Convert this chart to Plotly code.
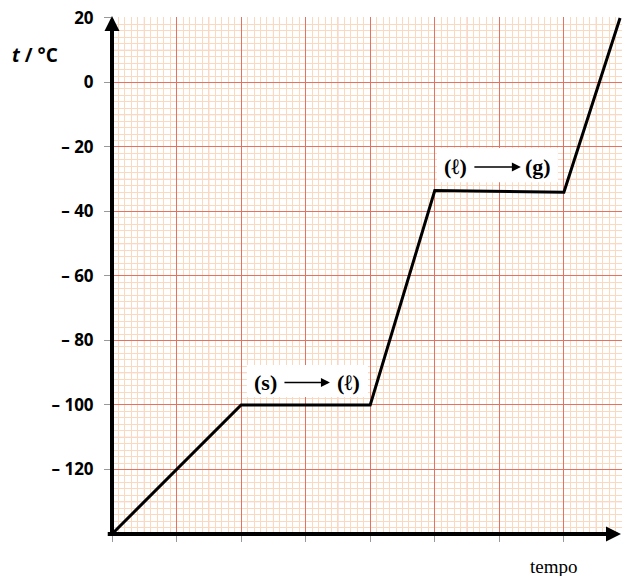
import plotly.graph_objects as go

# ---- data ----
tempo = [0, 2, 4, 5, 7, 7.87]
temperatura = [-140, -100, -100, -33.5, -34, 20]

y_tickvals = [20, 0, -20, -40, -60, -80, -100, -120]
y_ticktext = ["20", "0", "– 20", "– 40", "– 60", "– 80", "– 100", "– 120"]

x_range = [0, 7.9]
y_range = [-140, 20.3]

MAJOR = "#e3735f"
MEDIUM = "#eec2c8"
MINOR = "#fbd9bf"

fig = go.Figure()
fig.add_trace(go.Scatter(x=tempo, y=temperatura, mode="lines",
                         line=dict(color="black", width=3),
                         hoverinfo="skip", showlegend=False, cliponaxis=False))

shapes = []
# medium graph-paper lines (half divisions)
for k in range(8):
    shapes.append(dict(type="line", xref="x", yref="paper", x0=k + 0.5, x1=k + 0.5,
                       y0=0, y1=1, line=dict(color=MEDIUM, width=1), layer="between"))
    shapes.append(dict(type="line", xref="paper", yref="y", x0=0, x1=1,
                       y0=-130 + 20 * k, y1=-130 + 20 * k,
                       line=dict(color=MEDIUM, width=1), layer="between"))
# white label boxes
shapes.append(dict(type="rect", xref="x", yref="y", x0=2.09, x1=3.965, y0=-97.5, y1=-87.6,
                   fillcolor="white", line=dict(width=0), layer="between"))
shapes.append(dict(type="rect", xref="x", yref="y", x0=5.033, x1=6.907, y0=-30.9, y1=-20.3,
                   fillcolor="white", line=dict(width=0), layer="between"))

ann = []
# axes with arrows
ann.append(dict(x=0, y=1.002, xref="x", yref="paper", ax=0, ay=520, axref="pixel", ayref="pixel",
                showarrow=True, arrowhead=2, arrowsize=0.75, arrowwidth=4, arrowcolor="black", text=""))
ann.append(dict(x=0.9985, y=-140, xref="paper", yref="y", ax=-515, ay=0, axref="pixel", ayref="pixel",
                showarrow=True, arrowhead=2, arrowsize=0.75, arrowwidth=4, arrowcolor="black", text=""))

lab_font = dict(family="Liberation Serif, Times New Roman, serif", size=22, color="black", weight="bold")
for txt, xx, yy in [("(s)", 2.385, -93), ("(ℓ)", 3.66, -93), ("(ℓ)", 5.327, -26.2), ("(g)", 6.605, -26.2)]:
    ann.append(dict(x=xx, y=yy, xref="x", yref="y", text=txt, showarrow=False, font=lab_font))
for x0, x1, yy in [(2.648, 3.376, -93), (5.59, 6.334, -26.2)]:
    ann.append(dict(x=x1, y=yy, ax=x0, ay=yy, xref="x", yref="y", axref="x", ayref="y",
                    showarrow=True, arrowhead=2, arrowsize=1.2, arrowwidth=1.5,
                    arrowcolor="black", text=""))

ann.append(dict(x=-0.2, y=0.9265, xref="paper", yref="paper", xanchor="left", yanchor="middle",
                text="<i>t</i> / °C", showarrow=False,
                font=dict(family="Open Sans, sans-serif", size=19, color="black", weight="bold")))
ann.append(dict(x=0.8667, y=-0.0638, xref="paper", yref="paper", xanchor="center", yanchor="middle",
                text="tempo", showarrow=False,
                font=dict(family="Liberation Serif, Times New Roman, serif", size=19, color="black")))

fig.update_layout(
    width=622, height=576,
    margin=dict(l=112, r=0, t=17, b=42),
    paper_bgcolor="white", plot_bgcolor="white",
    shapes=shapes, annotations=ann,
    xaxis=dict(range=x_range, tick0=0, dtick=1, showgrid=True, gridcolor=MAJOR, gridwidth=1.2,
               minor=dict(tick0=0, dtick=0.1, showgrid=True, gridcolor=MINOR, gridwidth=1),
               zeroline=False, showticklabels=False, ticks="outside", ticklen=7,
               tickcolor="#999999", tickwidth=1, showline=False, fixedrange=True,
               automargin=False),
    yaxis=dict(range=y_range, tickmode="array", tickvals=y_tickvals, ticktext=y_ticktext,
               showgrid=True, gridcolor=MAJOR, gridwidth=1.2,
               minor=dict(tick0=0, dtick=2, showgrid=True, gridcolor=MINOR, gridwidth=1),
               zeroline=False, ticks="outside", ticklen=7, tickcolor="#999999", tickwidth=1,
               ticklabelstandoff=7,
               tickfont=dict(family="Open Sans, sans-serif", size=17, color="black", weight="bold"),
               showline=False, fixedrange=True, automargin=False),
)

fig.write_html("out.html", config={"displayModeBar": False},
               post_script="document.body.style.margin='0';document.body.style.overflow='hidden';")
